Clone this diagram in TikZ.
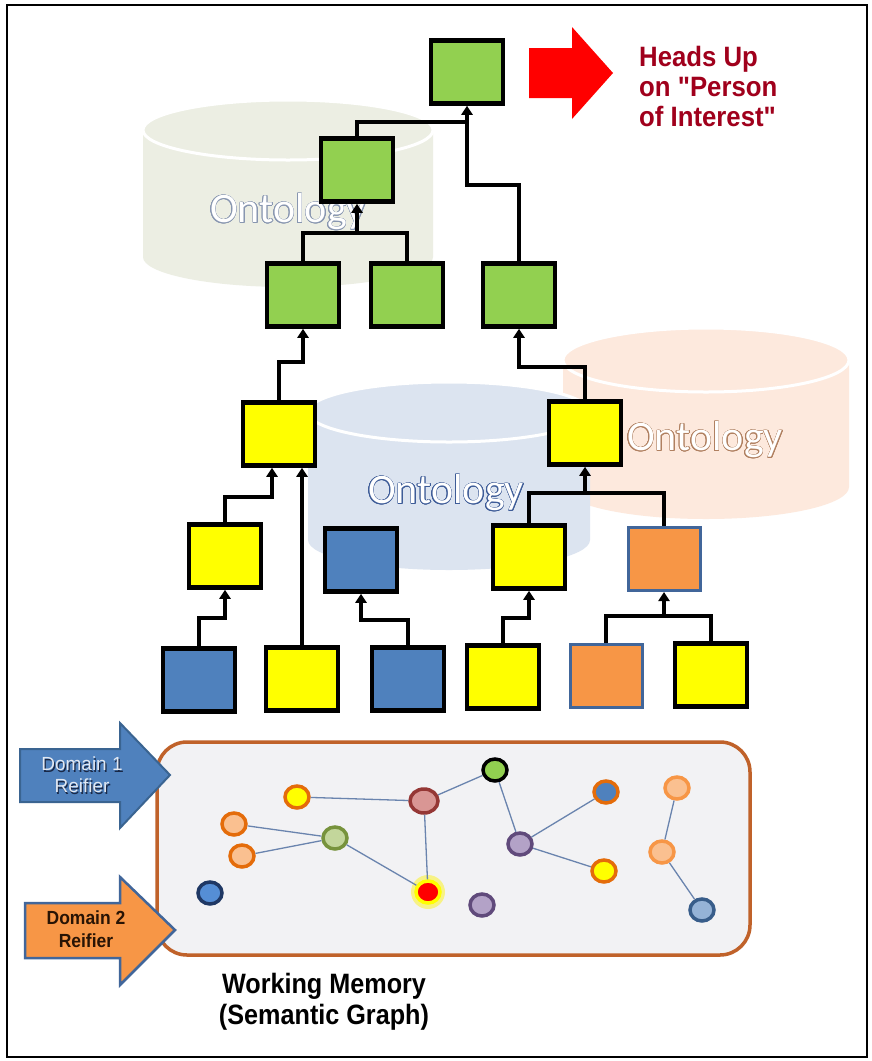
\documentclass[tikz,border=0pt]{standalone}
\usepackage{fontspec}
\setmainfont{Liberation Sans}[Ligatures=TeXOff]
\newfontfamily\calib{Carlito}
\usepackage{contour}
\usepackage{graphicx}
\usetikzlibrary{arrows.meta,shapes.geometric}
\definecolor{gr}{HTML}{92D050}
\definecolor{yl}{HTML}{FFFF00}
\definecolor{bl}{HTML}{4F81BD}
\definecolor{og}{HTML}{F79646}
\definecolor{obord}{HTML}{41669A}
\definecolor{cylg}{HTML}{ECEEE3}
\definecolor{cylb}{HTML}{DCE4F0}
\definecolor{cylp}{HTML}{FDE9DD}
\definecolor{ontg}{HTML}{8896B0}
\definecolor{ontb}{HTML}{3E5C98}
\definecolor{ontp}{HTML}{B08060}
\definecolor{wmborder}{HTML}{C0622A}
\definecolor{wmfill}{HTML}{F2F2F4}
\definecolor{hdred}{HTML}{A0001C}
\definecolor{ringor}{HTML}{E46C0A}
\definecolor{edgec}{HTML}{6A84AE}
\contourlength{0.6pt}
\newcommand{\drawcyl}[6]{%
  \fill[#6] (#1-#2,#3) -- (#1-#2,#4) arc[start angle=180,end angle=360,x radius=#2pt,y radius=#5pt] -- (#1+#2,#3) arc[start angle=0,end angle=180,x radius=#2pt,y radius=#5pt] -- cycle;
  \draw[white,line width=3pt,fill=#6] (#1,#3) ellipse[x radius=#2pt,y radius=#5pt];
}
\tikzset{
  box/.style={draw=black, line width=4.5pt, minimum width=72pt, minimum height=63pt, inner sep=0pt},
  gbox/.style={box, fill=gr},
  ybox/.style={box, fill=yl},
  bbox/.style={box, fill=bl},
  obox/.style={box, fill=og, draw=obord, line width=3pt},
  link/.style={line width=4pt, draw=black},
  up/.style={link, -{Triangle[width=11pt,length=9pt]}},
  gn/.style={ellipse, minimum width=24pt, minimum height=22pt, line width=3.5pt, inner sep=0pt},
  gedge/.style={draw=edgec, line width=1.3pt},
  onto/.style={font=\calib\fontsize{42}{42}\selectfont, text=white, inner sep=0pt},
}
\begin{document}
\begin{tikzpicture}[x=1pt,y=-1pt]
\useasboundingbox (0,0) rectangle (872,1061);
\fill[white] (0,0) rectangle (872,1061);
\draw[line width=1.4pt] (7,5) rectangle (867,1057);

% cylinders
\drawcyl{288}{145}{130}{257}{30}{cylg}
\drawcyl{706}{143}{360}{487}{32}{cylp}
\drawcyl{449}{141}{412}{540}{30}{cylb}
\node[onto] (ont1) at (288,212) {\contour{ontg}{Ontology}};
\node[onto] (ont3) at (705,440) {\contour{ontp}{Ontology}};
\node[onto] (ont2) at (446,493) {\contour{ontb}{Ontology}};

% boxes
\node[gbox] (g1) at (467,72) {};
\node[gbox] (g2) at (357,170) {};
\node[gbox] (g3) at (303,295) {};
\node[gbox] (g4) at (407,295) {};
\node[gbox] (g5) at (519,295) {};
\node[ybox] (y1) at (279,434) {};
\node[ybox] (y2) at (585,433) {};
\node[ybox] (y3) at (225,556) {};
\node[bbox] (b1) at (361,560) {};
\node[ybox] (y4) at (529,557) {};
\node[obox] (o1) at (664,559) {};
\node[bbox] (b2) at (199,680) {};
\node[ybox] (y5) at (302,679) {};
\node[bbox] (b3) at (408,679) {};
\node[ybox] (y6) at (503,677) {};
\node[obox] (o2) at (606,676) {};
\node[ybox] (y7) at (711,675) {};

% connectors
\coordinate (j1) at (467,122);
\coordinate (j2) at (467,185);
\draw[link] (g5.north) |- (j2) -- (j1);
\draw[up] (g2.north) |- (j1) -- (g1.south);
\coordinate (j3) at (357,233);
\draw[link] (g3.north) |- (j3) -| (g4.north);
\draw[up] (j3) -- (g2.south);
\coordinate (j4) at (303,362);
\draw[up] (y1.north) |- (j4) -- (g3.south);
\coordinate (j5) at (519,367);
\draw[up] (y2.north) |- (j5) -- (g5.south);
\coordinate (j6) at (272,497);
\draw[up] (y3.north) |- (j6) -- (j6 |- y1.south);
\draw[up] (y5.north) -- (y5.north |- y1.south);
\coordinate (j7) at (225,618);
\draw[up] (b2.north) |- (j7) -- (y3.south);
\coordinate (j8) at (361,620);
\draw[up] (b3.north) |- (j8) -- (b1.south);
\coordinate (j9) at (529,618);
\draw[up] (y6.north) |- (j9) -- (y4.south);
\coordinate (j10) at (664,616);
\draw[link] (o2.north) |- (j10) -| (y7.north);
\draw[up] (j10) -- (o1.south);
\coordinate (j11) at (585,493);
\draw[link] (y4.north) |- (j11) -| (o1.north);
\draw[up] (j11) -- (y2.south);

% heads up
\fill[red] (529,48) -- (572,48) -- (572,27) -- (613,73) -- (572,119) -- (572,98) -- (529,98) -- cycle;
\node[anchor=west, text=hdred, font=\bfseries\fontsize{28}{30}\selectfont, inner sep=0pt] (hu) at (639,90)
  {\scalebox{0.92}[1]{\begin{tabular}{@{}l@{}}Heads Up\\on "Person\\of Interest"\end{tabular}}};

% working memory
\draw[wmborder, line width=3.5pt, fill=wmfill, rounded corners=30pt] (157,742) rectangle (750,955);
\fill[yellow, opacity=0.45] (428,892) circle[radius=17pt];
\node[gn, fill=yl, draw=ringor] (n1) at (297,797) {};
\node[gn, fill={rgb,255:red,217;green,150;blue,148}, draw={rgb,255:red,149;green,55;blue,53}, minimum width=28pt, minimum height=24pt] (n2) at (424,801) {};
\node[gn, fill=gr, draw=black] (n3) at (495,770) {};
\node[gn, fill={rgb,255:red,250;green,192;blue,144}, draw=ringor] (n4) at (234,824) {};
\node[gn, fill={rgb,255:red,250;green,192;blue,144}, draw=ringor] (n5) at (242,856) {};
\node[gn, fill={rgb,255:red,195;green,214;blue,155}, draw={rgb,255:red,119;green,147;blue,60}] (n6) at (335,838) {};
\node[gn, fill=red, draw=yl] (n7) at (428,892) {};
\node[gn, fill={rgb,255:red,85;green,142;blue,213}, draw={rgb,255:red,31;green,56;blue,100}] (n8) at (210,893) {};
\node[gn, fill={rgb,255:red,179;green,162;blue,199}, draw={rgb,255:red,96;green,74;blue,123}] (n9) at (482,905) {};
\node[gn, fill={rgb,255:red,179;green,162;blue,199}, draw={rgb,255:red,96;green,74;blue,123}] (n10) at (520,844) {};
\node[gn, fill={rgb,255:red,79;green,129;blue,189}, draw=ringor] (n11) at (606,792) {};
\node[gn, fill=yl, draw=ringor] (n12) at (604,871) {};
\node[gn, fill={rgb,255:red,250;green,192;blue,144}, draw=og] (n13) at (677,788) {};
\node[gn, fill={rgb,255:red,250;green,192;blue,144}, draw=og] (n14) at (662,852) {};
\node[gn, fill={rgb,255:red,149;green,179;blue,215}, draw={rgb,255:red,56;green,93;blue,138}] (n15) at (702,910) {};
\draw[gedge] (n1) -- (n2);
\draw[gedge] (n2) -- (n3);
\draw[gedge] (n2) -- (n7);
\draw[gedge] (n4) -- (n6);
\draw[gedge] (n5) -- (n6);
\draw[gedge] (n6) -- (n7);
\draw[gedge] (n3) -- (n10);
\draw[gedge] (n10) -- (n11);
\draw[gedge] (n10) -- (n12);
\draw[gedge] (n13) -- (n14);
\draw[gedge] (n14) -- (n15);

% reifier arrows
\draw[fill=bl, draw={rgb,255:red,58;green,100;blue,145}, line width=2pt, line join=miter]
  (20,749) -- (120,749) -- (120,723) -- (170,775) -- (120,828) -- (120,802) -- (20,802) -- cycle;
\draw[fill=og, draw=obord, line width=2.5pt, line join=miter]
  (25,903) -- (120,903) -- (120,877) -- (175,930) -- (120,985) -- (120,958) -- (25,958) -- cycle;
\node[text={rgb,255:red,25;green,40;blue,70}, font=\fontsize{19}{22}\selectfont, align=center] at (83.2,776.2) {Domain 1\\Reifier};
\node[text={rgb,255:red,225;green,232;blue,242}, font=\fontsize{19}{22}\selectfont, align=center] (d1) at (82,775) {Domain 1\\Reifier};
\node[text={rgb,255:red,40;green,20;blue,5}, font=\bfseries\fontsize{19}{23}\selectfont, align=center] (d2) at (86,931)
  {\scalebox{0.92}[1]{\begin{tabular}{@{}c@{}}Domain 2\\Reifier\end{tabular}}};

\node[font=\bfseries\fontsize{28}{31}\selectfont, inner sep=0pt] (wml) at (324,1003)
  {\scalebox{0.9}[1]{\begin{tabular}{@{}c@{}}Working Memory\\(Semantic Graph)\end{tabular}}};
\end{tikzpicture}
\end{document}
